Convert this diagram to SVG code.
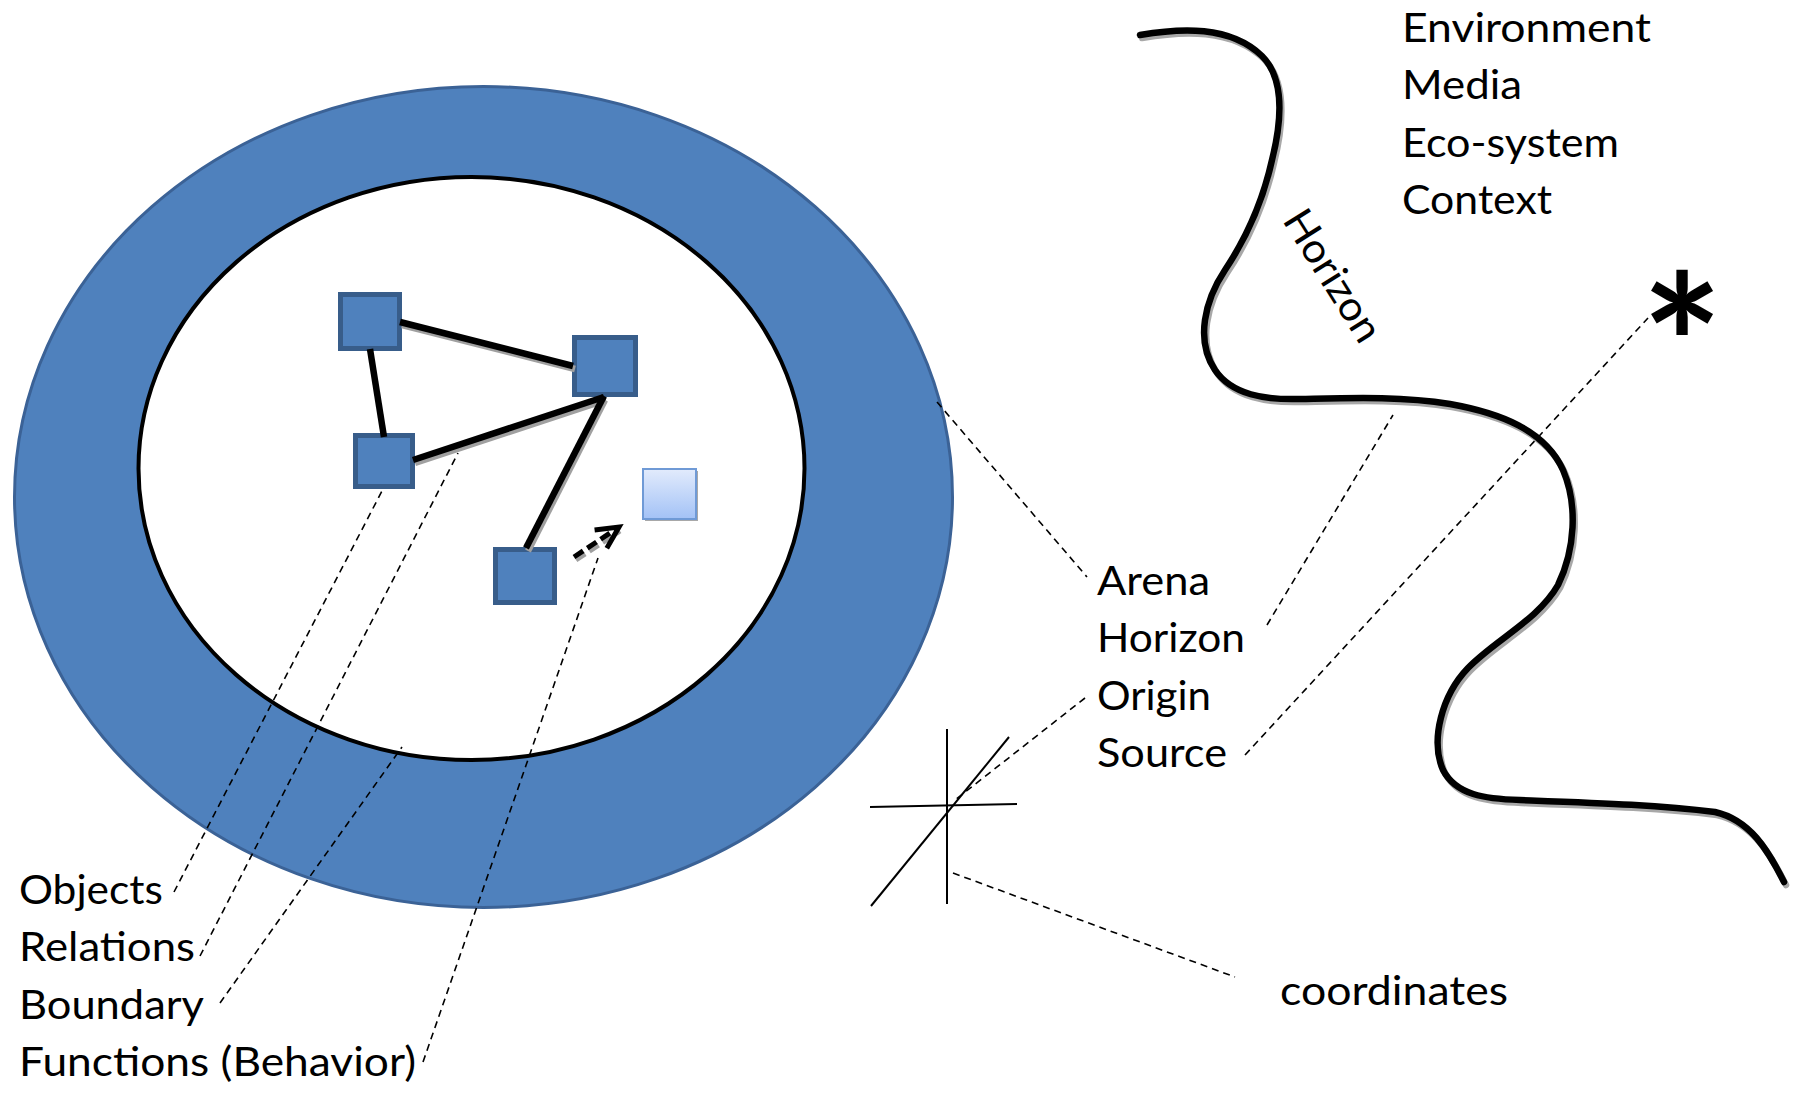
<svg xmlns="http://www.w3.org/2000/svg" width="1797" height="1095" viewBox="0 0 1797 1095">
  <style>
    .lbl { font-family: Lato, "Open Sans", "Liberation Sans", sans-serif; font-size: 41px; fill: #000; }
    .obj { fill: #4f81bd; stroke: #385d8a; stroke-width: 5; }
    .rel { stroke: #000; stroke-width: 6.5; stroke-linecap: butt; fill: none; }
    .rel-shadow { stroke: #a0a0a0; stroke-width: 6.5; fill: none; }
    .lead { stroke: #000; stroke-width: 1.6; stroke-dasharray: 7 5; fill: none; }
    .axis { stroke: #000; stroke-width: 2; fill: none; }
    .curve { fill: none; stroke-width: 6.5; stroke-linecap: round; }
  </style>
  <defs>
    <linearGradient id="newFill" x1="0" y1="0" x2="0" y2="1">
      <stop offset="0" stop-color="#e2ebfc"/>
      <stop offset="1" stop-color="#a3c2f6"/>
    </linearGradient>
    <marker id="openHead" markerUnits="userSpaceOnUse" markerWidth="40" markerHeight="40" viewBox="-30 -20 40 40" refX="0" refY="0" orient="auto" overflow="visible">
      <path d="M-22,-11 L0,0 L-22,11" fill="none" stroke="#000" stroke-width="5"/>
    </marker>
    <path id="horizonPath" d="M1140,35 C1180,28 1230,25 1262,56 C1285,79 1282,120 1272,160 C1262,205 1245,240 1225,270 C1205,300 1195,340 1215,370 C1232,395 1265,400 1300,399 C1350,398 1400,396 1450,404 C1500,413 1545,430 1563,470 C1578,505 1575,550 1558,585 C1538,620 1495,640 1468,668 C1442,695 1430,740 1443,770 C1456,795 1485,799 1520,800 C1600,803 1660,805 1715,812 C1750,820 1768,850 1784,882"/>
  </defs>

  <rect width="1797" height="1095" fill="#fff"/>

  <!-- system boundary ring -->
  <g id="arena">
    <ellipse cx="483.5" cy="497" rx="469" ry="410.5" fill="#4f81bd" stroke="#3b6296" stroke-width="3"/>
  </g>
  <g id="boundary">
    <ellipse cx="471.5" cy="468.5" rx="333" ry="291.5" fill="#fff" stroke="#000" stroke-width="4"/>
  </g>

  <!-- objects -->
  <g id="obj-a"><rect class="obj" x="340.5" y="294.5" width="59" height="54"/></g>
  <g id="obj-b"><rect class="obj" x="574.5" y="337.5" width="61" height="57"/></g>
  <g id="obj-c"><rect class="obj" x="355.5" y="435.5" width="57" height="51"/></g>
  <g id="obj-d"><rect class="obj" x="495.5" y="549.5" width="59" height="53"/></g>
  <g id="obj-new">
    <rect x="645" y="471" width="53" height="50" fill="#a8a8a8"/>
    <rect x="643" y="469" width="53" height="50" fill="url(#newFill)" stroke="#6f9ad6" stroke-width="2"/>
  </g>

  <!-- horizon curve -->
  <g id="horizon">
    <use href="#horizonPath" class="curve" stroke="#a8a8a8" transform="translate(2,3)"/>
    <use href="#horizonPath" class="curve" stroke="#000"/>
    <text class="lbl" x="1321" y="283" text-anchor="middle" textLength="148" lengthAdjust="spacingAndGlyphs" transform="rotate(58 1321 283)">Horizon</text>
  </g>

  <!-- distant source -->
  <g id="star">
    <text x="1682" y="415" text-anchor="middle" font-family="Lato, 'DejaVu Sans', sans-serif" font-weight="bold" font-size="192">*</text>
  </g>

  <!-- coordinate axes -->
  <g id="coords">
    <line class="axis" x1="947" y1="729" x2="947" y2="904"/>
    <line class="axis" x1="870" y1="807" x2="1017" y2="804"/>
    <line class="axis" x1="871" y1="906" x2="1009" y2="737"/>
  </g>

  <!-- connectors -->
  <g id="connectors">
    <g id="relations">
      <line class="rel-shadow" x1="402" y1="325" x2="575" y2="369"/>
      <line class="rel-shadow" x1="415" y1="463" x2="606" y2="400"/>
      <line class="rel-shadow" x1="605" y1="400" x2="528" y2="551"/>
      <line class="rel" x1="400" y1="322" x2="573" y2="366"/>
      <line class="rel" x1="370" y1="349" x2="384" y2="437"/>
      <line class="rel" x1="413" y1="460" x2="604" y2="397"/>
      <line class="rel" x1="604" y1="396" x2="526" y2="548"/>
    </g>
    <path d="M576,560 L620,531" fill="none" stroke="#a0a0a0" stroke-width="5" stroke-dasharray="11 5"/>
    <path id="behavior-arrow" d="M574,557 L619,527" fill="none" stroke="#000" stroke-width="5" stroke-dasharray="11 5" marker-end="url(#openHead)"/>
    <g id="leaders">
      <line class="lead" x1="174" y1="892" x2="383" y2="489"/>
      <line class="lead" x1="200" y1="956" x2="458" y2="453"/>
      <line class="lead" x1="220" y1="1003" x2="402" y2="747"/>
      <line class="lead" x1="423" y1="1062" x2="598" y2="558"/>
      <line class="lead" x1="937" y1="402" x2="1087" y2="577"/>
      <line class="lead" x1="1267" y1="625" x2="1393" y2="415"/>
      <line class="lead" x1="1085" y1="698" x2="955" y2="800"/>
      <line class="lead" x1="1245" y1="755" x2="1648" y2="318"/>
      <line class="lead" x1="953" y1="873" x2="1235" y2="977"/>
    </g>
  </g>

  <!-- labels -->
  <g id="labels-system">
    <text class="lbl" x="19" y="904" textLength="144" lengthAdjust="spacingAndGlyphs">Objects</text>
    <text class="lbl" x="19" y="961" textLength="176" lengthAdjust="spacingAndGlyphs">Relations</text>
    <text class="lbl" x="19" y="1019" textLength="185" lengthAdjust="spacingAndGlyphs">Boundary</text>
    <text class="lbl" x="19" y="1076" textLength="397" lengthAdjust="spacingAndGlyphs">Functions (Behavior)</text>
  </g>
  <g id="labels-arena">
    <text class="lbl" x="1097" y="595" textLength="113" lengthAdjust="spacingAndGlyphs">Arena</text>
    <text class="lbl" x="1097" y="652" textLength="148" lengthAdjust="spacingAndGlyphs">Horizon</text>
    <text class="lbl" x="1097" y="710" textLength="114" lengthAdjust="spacingAndGlyphs">Origin</text>
    <text class="lbl" x="1097" y="767" textLength="130" lengthAdjust="spacingAndGlyphs">Source</text>
  </g>
  <g id="labels-environment">
    <text class="lbl" x="1402" y="42" textLength="249" lengthAdjust="spacingAndGlyphs">Environment</text>
    <text class="lbl" x="1402" y="99" textLength="120" lengthAdjust="spacingAndGlyphs">Media</text>
    <text class="lbl" x="1402" y="157" textLength="217" lengthAdjust="spacingAndGlyphs">Eco-system</text>
    <text class="lbl" x="1402" y="214" textLength="150" lengthAdjust="spacingAndGlyphs">Context</text>
  </g>
  <g id="label-coordinates">
    <text class="lbl" x="1280" y="1005" textLength="228" lengthAdjust="spacingAndGlyphs">coordinates</text>
  </g>
</svg>
